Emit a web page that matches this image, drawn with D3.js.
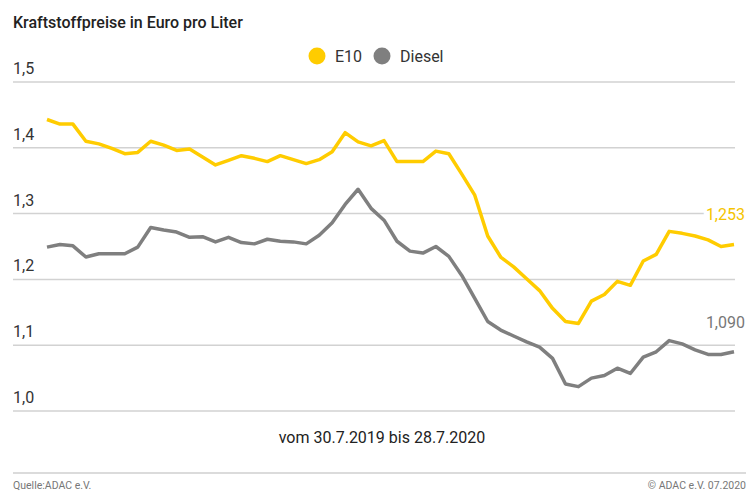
<!DOCTYPE html>
<html>
<head>
<meta charset="utf-8">
<script src="https://cdn.jsdelivr.net/npm/d3@7"></script>
<style>
  body { margin: 0; background: #fff; }
  text { font-family: Roboto, "Open Sans", sans-serif; }
</style>
</head>
<body>
<div id="chart"></div>
<script>
// weekly prices, 30.7.2019 - 28.7.2020
const e10 = [1.443, 1.436, 1.436, 1.410, 1.406, 1.399, 1.391, 1.393, 1.410, 1.404,
    1.396, 1.398, 1.386, 1.374, 1.381, 1.388, 1.384, 1.379, 1.388, 1.382,
    1.376, 1.382, 1.394, 1.423, 1.409, 1.403, 1.411, 1.379, 1.379, 1.379,
    1.395, 1.391, 1.360, 1.328, 1.266, 1.234, 1.219, 1.201, 1.183, 1.156,
    1.136, 1.133, 1.167, 1.177, 1.197, 1.191, 1.228, 1.238, 1.273, 1.270,
    1.266, 1.260, 1.250, 1.253];
const diesel = [1.249, 1.253, 1.251, 1.234, 1.239, 1.239, 1.239, 1.249, 1.279, 1.275,
    1.272, 1.264, 1.265, 1.257, 1.264, 1.256, 1.254, 1.261, 1.258, 1.257,
    1.254, 1.267, 1.286, 1.314, 1.337, 1.308, 1.290, 1.258, 1.243, 1.240,
    1.250, 1.235, 1.206, 1.171, 1.136, 1.123, 1.114, 1.105, 1.097, 1.080,
    1.041, 1.037, 1.050, 1.054, 1.065, 1.057, 1.082, 1.090, 1.107, 1.102,
    1.093, 1.086, 1.086, 1.090];
const yTicks = [1.0, 1.1, 1.2, 1.3, 1.4, 1.5];
const seriesNames = ["E10", "Diesel"];
const seriesColors = ["#ffcc00", "#7f7f7f"];
const labelColors = ["#f5c400", "#777777"];

const width = 756, height = 493;
const fmt = d3.formatLocale({decimal: ",", thousands: ".", grouping: [3], currency: ["", "€"]});
const f1 = fmt.format(".1f"), f3 = fmt.format(".3f");

const svg = d3.select("#chart")
    .append("svg")
    .attr("width", width)
    .attr("height", height);

const x = d3.scaleLinear()
    .domain([0, e10.length - 1])
    .range([47, 734]);

const y = d3.scaleLinear()
    .domain([1.0, 1.5])
    .range([411, 82]);

// title
svg.append("text")
    .attr("x", 13).attr("y", 28)
    .attr("font-size", 16)
    .attr("font-weight", 500)
    .attr("fill", "#222")
    .text("Kraftstoffpreise in Euro pro Liter");

// gridlines + tick labels
const grid = svg.append("g");
grid.selectAll("line")
    .data(yTicks)
    .enter()
    .append("line")
    .attr("x1", 13).attr("x2", 735)
    .attr("y1", d => y(d)).attr("y2", d => y(d))
    .attr("stroke", "#d2d2d2")
    .attr("stroke-width", 1.5);
grid.selectAll("text")
    .data(yTicks)
    .enter()
    .append("text")
    .attr("x", 13)
    .attr("y", d => y(d) - 8)
    .attr("font-size", 16)
    .attr("fill", "#333")
    .text(d => f1(d));

// legend
const legend = svg.append("g");
const legX = [317, 382];
seriesNames.forEach(function (name, i) {
    legend.append("circle")
        .attr("cx", legX[i]).attr("cy", 56).attr("r", 8.5)
        .attr("fill", seriesColors[i]);
    legend.append("text")
        .attr("x", legX[i] + 18).attr("y", 62)
        .attr("font-size", 16)
        .attr("fill", "#333")
        .text(name);
});

// lines
const line = d3.line()
    .x((d, i) => x(i))
    .y(d => y(d));

[diesel, e10].forEach(function (data, k) {
    const idx = k === 0 ? 1 : 0;
    svg.append("path")
        .datum(data)
        .attr("fill", "none")
        .attr("stroke", seriesColors[idx])
        .attr("stroke-width", 3.5)
        .attr("stroke-linejoin", "round")
        .attr("d", line);
});

// end value labels
const endLabelsY = [y(1.3) + 6, 328];
[e10, diesel].forEach(function (data, i) {
    svg.append("text")
        .attr("x", 745)
        .attr("y", endLabelsY[i])
        .attr("text-anchor", "end")
        .attr("font-size", 16)
        .attr("fill", labelColors[i])
        .attr("stroke", "#fff")
        .attr("stroke-width", 7)
        .attr("paint-order", "stroke")
        .text(f3(data[data.length - 1]));
});

// period
svg.append("text")
    .attr("x", 382).attr("y", 443)
    .attr("text-anchor", "middle")
    .attr("font-size", 16)
    .attr("fill", "#222")
    .text("vom 30.7.2019 bis 28.7.2020");

// footer
svg.append("line")
    .attr("x1", 13).attr("x2", 746)
    .attr("y1", 473).attr("y2", 473)
    .attr("stroke", "#cfcfcf")
    .attr("stroke-width", 1.5);
svg.append("text")
    .attr("x", 13).attr("y", 489)
    .attr("font-size", 10.5)
    .attr("fill", "#777")
    .text("Quelle:ADAC e.V.");
svg.append("text")
    .attr("x", 746).attr("y", 489)
    .attr("text-anchor", "end")
    .attr("font-size", 10.5)
    .attr("fill", "#777")
    .text("© ADAC e.V. 07.2020");
</script>
</body>
</html>
